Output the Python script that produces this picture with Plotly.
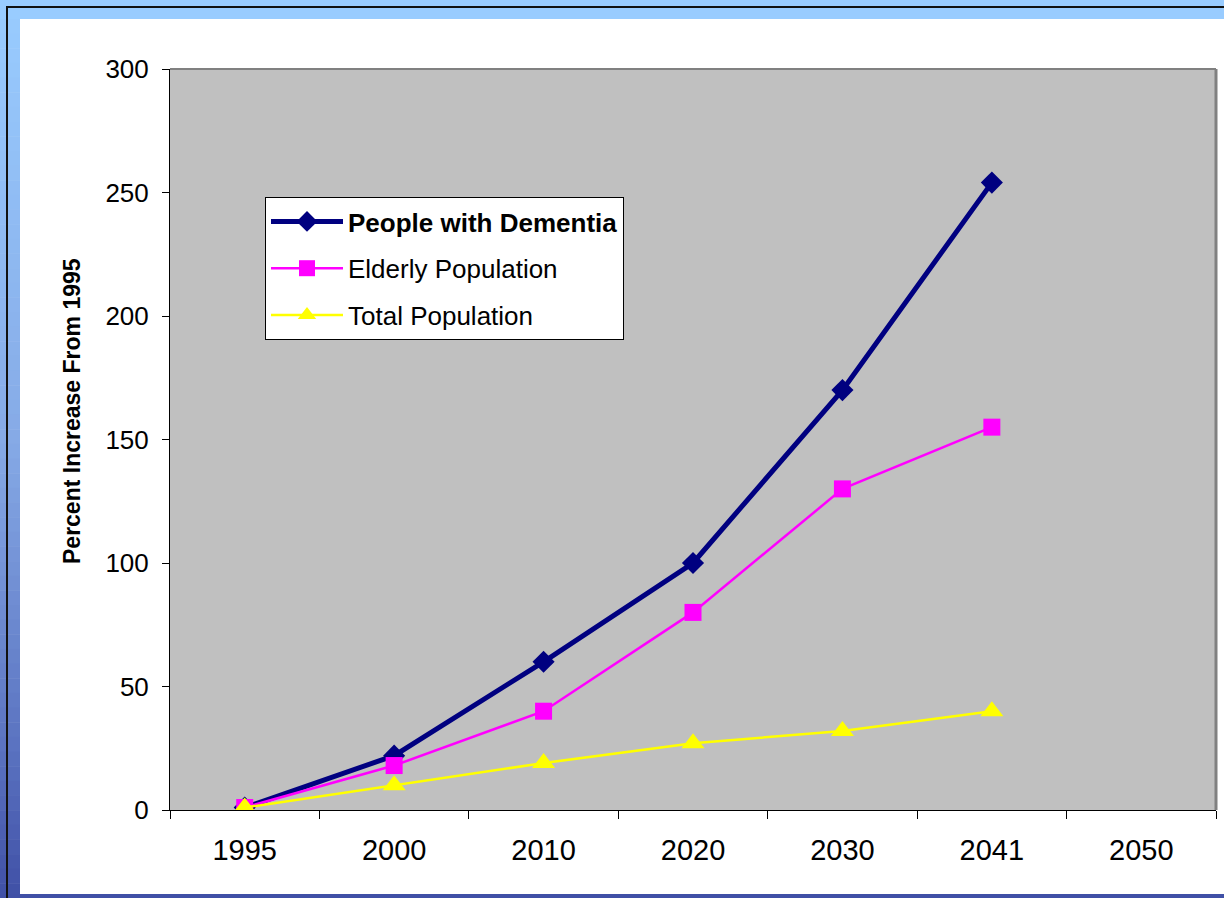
import plotly.graph_objects as go

# ---- data ----
years = ["1995", "2000", "2010", "2020", "2030", "2041", "2050"]
dementia = [1, 22, 60, 100, 170, 254, None]
elderly = [1, 18, 40, 80, 130, 155, None]
total_pop = [1, 10, 19, 27, 32, 40, None]
y_ticks = [0, 50, 100, 150, 200, 250, 300]

W, H = 1224, 898
L, R, T, B = 170, 8, 69, 88
PW, PH = W - L - R, H - T - B

def px(x):
    return (x - L) / PW

def py(y):
    return (H - B - y) / PH

FONT = "Liberation Sans, Arial, sans-serif"

fig = go.Figure()
fig.add_trace(go.Scatter(
    x=years, y=dementia, name="<b>People with Dementia</b>", mode="lines+markers",
    line=dict(color="#000080", width=5),
    marker=dict(symbol="diamond", size=17, color="#000080"),
    legendgroup="a"))
fig.add_trace(go.Scatter(
    x=years, y=elderly, name="Elderly Population", mode="lines+markers",
    line=dict(color="#FF00FF", width=2.5),
    marker=dict(symbol="square", size=17, color="#FF00FF"),
    legendgroup="b"))
fig.add_trace(go.Scatter(
    x=years, y=total_pop, name="Total Population", mode="lines+markers",
    line=dict(color="#FFFF00", width=2.5),
    marker=dict(symbol="triangle-up", size=20, color="#FFFF00"),
    legendgroup="c"))

shapes = []
# top light-blue strip
shapes.append(dict(type="rect", xref="paper", yref="paper", x0=px(0), x1=px(W), y0=py(0), y1=py(19),
                   fillcolor="#99CCFF", line=dict(width=0), layer="below"))
# left gradient strip
stops = [(0, (153, 204, 255)), (440, (134, 170, 230)), (750, (90, 114, 192)), (898, (64, 80, 166))]
def col(y):
    for (y0, c0), (y1, c1) in zip(stops[:-1], stops[1:]):
        if y0 <= y <= y1:
            t = (y - y0) / (y1 - y0)
            return "rgb(%d,%d,%d)" % tuple(round(a + (b - a) * t) for a, b in zip(c0, c1))
    return "rgb(64,80,166)"
N = 60
for i in range(N):
    ya = 19 + (H - 19) * i / N
    yb = 19 + (H - 19) * (i + 1) / N + 0.5
    shapes.append(dict(type="rect", xref="paper", yref="paper", x0=px(0), x1=px(20), y0=py(ya), y1=py(yb),
                       fillcolor=col((ya + yb) / 2), line=dict(width=0), layer="below"))
# bottom dark strip
shapes.append(dict(type="rect", xref="paper", yref="paper", x0=px(0), x1=px(W), y0=py(894), y1=py(H),
                   fillcolor="#4050A6", line=dict(width=0), layer="below"))
# black frame lines
shapes.append(dict(type="line", xref="paper", yref="paper", x0=px(7), x1=px(7), y0=py(6), y1=py(H),
                   line=dict(color="#111111", width=2), layer="below"))
shapes.append(dict(type="line", xref="paper", yref="paper", x0=px(6), x1=px(W), y0=py(7), y1=py(7),
                   line=dict(color="#111111", width=2), layer="below"))
# plot area gray border (top & right)
shapes.append(dict(type="line", xref="paper", yref="paper", x0=0, x1=1, y0=1, y1=1,
                   line=dict(color="#808080", width=2)))
shapes.append(dict(type="line", xref="paper", yref="paper", x0=1, x1=1, y0=0, y1=1,
                   line=dict(color="#808080", width=3)))

fig.update_layout(
    width=W, height=H,
    margin=dict(l=L, r=R, t=T, b=B, pad=0),
    paper_bgcolor="white",
    plot_bgcolor="#C0C0C0",
    font=dict(family=FONT, color="black"),
    shapes=shapes,
    showlegend=True,
    legend=dict(x=px(265), y=py(197), xanchor="left", yanchor="top",
                bgcolor="white", bordercolor="black", borderwidth=1,
                font=dict(family=FONT, size=26, color="black"),
                tracegroupgap=10, itemwidth=72),
    annotations=[dict(text="<b>Percent Increase From 1995</b>", textangle=-90,
                      xref="paper", yref="paper", x=px(72), y=py(411),
                      xanchor="center", yanchor="middle", showarrow=False,
                      font=dict(family=FONT, size=23, color="black"))],
)
fig.update_xaxes(type="category", categoryorder="array", categoryarray=years,
                 range=[-0.5, 6.5], showgrid=False, zeroline=False,
                 showline=True, linecolor="black", linewidth=1,
                 ticks="outside", tickson="boundaries", ticklen=8, tickcolor="black",
                 tickfont=dict(family=FONT, size=29, color="black"), ticklabelstandoff=14)
fig.update_yaxes(range=[0, 300], tickvals=y_ticks, showgrid=False, zeroline=False,
                 showline=True, linecolor="black", linewidth=1,
                 ticks="outside", ticklen=7, tickcolor="black",
                 tickfont=dict(family=FONT, size=26, color="black"), ticklabelstandoff=8)

fig.write_html("out.html", config={"displayModeBar": False},
               post_script="document.body.style.margin='0';document.body.style.overflow='hidden';")
